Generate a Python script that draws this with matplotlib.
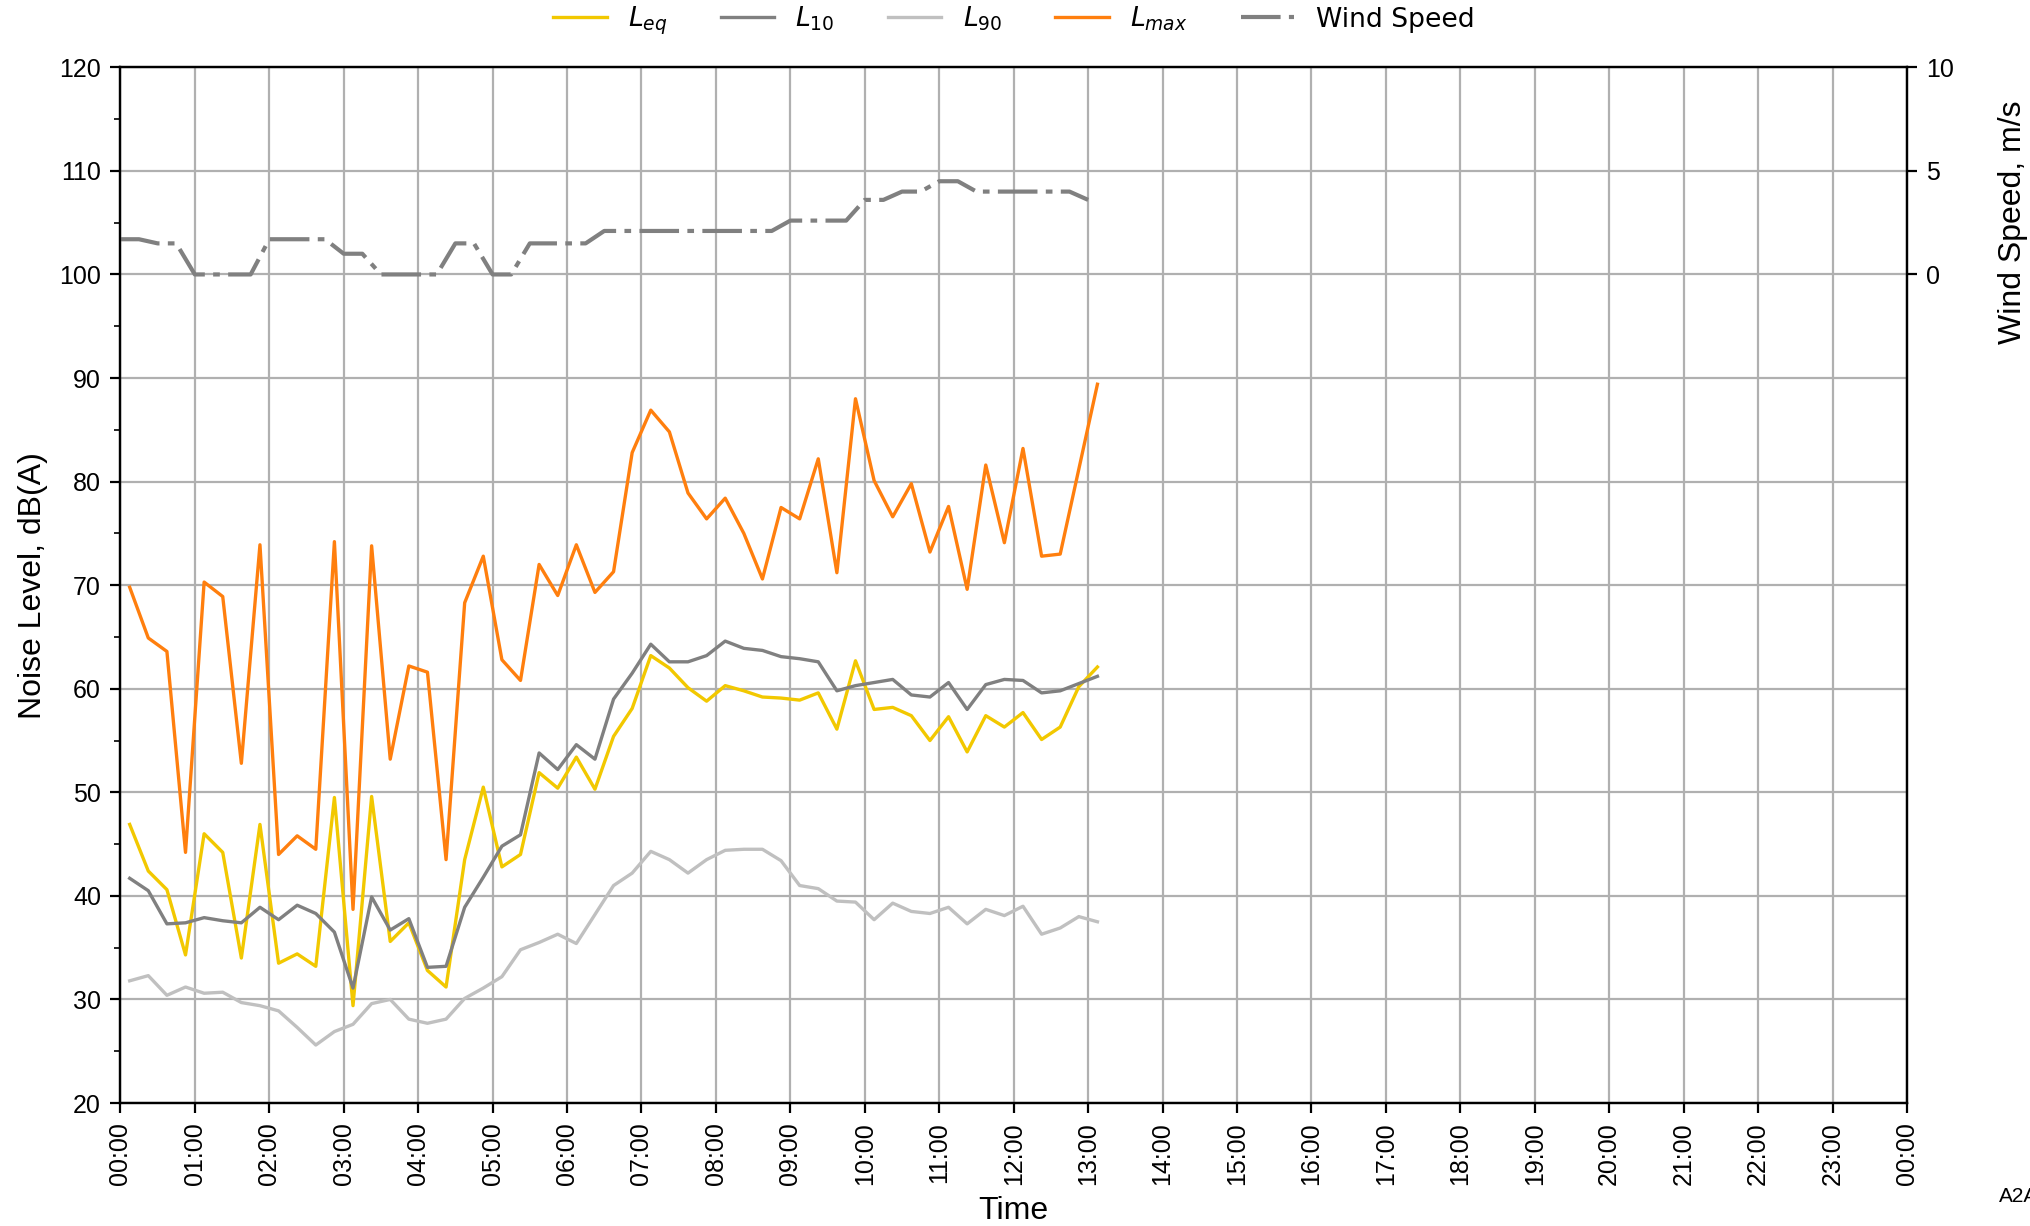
import matplotlib
matplotlib.use('Agg')
import matplotlib.pyplot as plt
import matplotlib.dates as mdates
import pandas as pd

plt.rcParams['font.family'] = ['Liberation Sans', 'DejaVu Sans']

# 15-minute noise readings (period centres) and wind readings
noise_start = '2024-01-01 00:07:30'
wind_start = '2024-01-01 00:00:00'

leq = [46.9, 42.4, 40.6, 34.3, 46.0, 44.2, 34.0, 46.9, 33.5, 34.4,
       33.2, 49.5, 29.4, 49.6, 35.6, 37.4, 32.8, 31.2, 43.5, 50.5,
       42.8, 44.0, 51.9, 50.4, 53.4, 50.3, 55.4, 58.1, 63.2, 62.0,
       60.1, 58.8, 60.3, 59.8, 59.2, 59.1, 58.9, 59.6, 56.1, 62.7,
       58.0, 58.2, 57.4, 55.0, 57.3, 53.9, 57.4, 56.3, 57.7, 55.1,
       56.3, 60.2, 62.1]
l10 = [41.7, 40.5, 37.3, 37.4, 37.9, 37.6, 37.4, 38.9, 37.7, 39.1,
       38.3, 36.5, 31.1, 39.9, 36.7, 37.8, 33.1, 33.2, 38.9, 41.8,
       44.8, 45.9, 53.8, 52.2, 54.6, 53.2, 59.0, 61.5, 64.3, 62.6,
       62.6, 63.2, 64.6, 63.9, 63.7, 63.1, 62.9, 62.6, 59.8, 60.3,
       60.6, 60.9, 59.4, 59.2, 60.6, 58.0, 60.4, 60.9, 60.8, 59.6,
       59.8, 60.5, 61.2]
l90 = [31.8, 32.3, 30.4, 31.2, 30.6, 30.7, 29.7, 29.4, 28.9, 27.3,
       25.6, 26.9, 27.6, 29.6, 30.0, 28.1, 27.7, 28.1, 30.1, 31.1,
       32.2, 34.8, 35.5, 36.3, 35.4, 38.2, 41.0, 42.2, 44.3, 43.5,
       42.2, 43.5, 44.4, 44.5, 44.5, 43.4, 41.0, 40.7, 39.5, 39.4,
       37.7, 39.3, 38.5, 38.3, 38.9, 37.3, 38.7, 38.1, 39.0, 36.3,
       36.9, 38.0, 37.5]
lmax = [69.8, 64.9, 63.6, 44.2, 70.3, 68.9, 52.8, 73.9, 44.0, 45.8,
        44.5, 74.2, 38.7, 73.8, 53.2, 62.2, 61.6, 43.5, 68.3, 72.8,
        62.8, 60.8, 72.0, 69.0, 73.9, 69.3, 71.3, 82.8, 86.9, 84.8,
        78.9, 76.4, 78.4, 75.0, 70.6, 77.5, 76.4, 82.2, 71.2, 88.0,
        80.1, 76.6, 79.8, 73.2, 77.6, 69.6, 81.6, 74.1, 83.2, 72.8,
        73.0, 81.2, 89.4]
wind = [1.7, 1.7, 1.5, 1.5, 0.0, 0.0, 0.0, 0.0, 1.7, 1.7,
        1.7, 1.7, 1.0, 1.0, 0.0, 0.0, 0.0, 0.0, 1.5, 1.5,
        0.0, 0.0, 1.5, 1.5, 1.5, 1.5, 2.1, 2.1, 2.1, 2.1,
        2.1, 2.1, 2.1, 2.1, 2.1, 2.1, 2.6, 2.6, 2.6, 2.6,
        3.6, 3.6, 4.0, 4.0, 4.5, 4.5, 4.0, 4.0, 4.0, 4.0,
        4.0, 4.0, 3.6]

noise_t = pd.date_range(noise_start, periods=len(leq), freq='15min')
wind_t = pd.date_range(wind_start, periods=len(wind), freq='15min')

fig = plt.figure(figsize=(10.15, 6.13), dpi=200)
ax = fig.add_axes([0.0593, 0.1003, 0.8801, 0.8448])
ax2 = ax.twinx()

h1, = ax.plot(noise_t, leq, color='#f2c800', lw=1.2, label='$L_{eq}$')
h2, = ax.plot(noise_t, l10, color='#808080', lw=1.2, label='$L_{10}$')
h3, = ax.plot(noise_t, l90, color='#c0c0c0', lw=1.2, label='$L_{90}$')
h4, = ax.plot(noise_t, lmax, color='#ff7f0e', lw=1.2, label='$L_{max}$')
h5, = ax2.plot(wind_t, wind, color='#808080', lw=1.5,
               linestyle=(0, (9.5, 2.0, 1.6, 2.0)), label='Wind Speed')

ax.set_xlim(pd.Timestamp('2024-01-01 00:00'), pd.Timestamp('2024-01-02 00:00'))
ax.xaxis.set_major_locator(mdates.HourLocator())
ax.xaxis.set_major_formatter(mdates.DateFormatter('%H:%M'))
ax.tick_params(axis='x', labelrotation=90, labelsize=9)
ax.set_ylim(20, 120)
ax.set_yticks(range(20, 121, 10))
ax.set_yticks(range(25, 120, 10), minor=True)
ax.tick_params(axis='y', labelsize=9)
ax.grid(True, which='major', color='#b0b0b0', lw=0.8)

ax2.set_ylim(-40, 10)
ax2.set_yticks([0, 5, 10])
ax2.tick_params(axis='y', labelsize=9)

ax.set_xlabel('Time', fontsize=11.5, labelpad=4)
ax.set_ylabel('Noise Level, dB(A)', fontsize=11.5)
ax2.set_ylabel('Wind Speed, m/s', fontsize=11.5)
ax2.yaxis.set_label_coords(1.0507, 0.85)

ax.legend(handles=[h1, h2, h3, h4, h5], loc='center', ncol=5, frameon=False,
          prop={'family': 'DejaVu Sans', 'size': 9.6},
          bbox_to_anchor=(0.5, 1.0447))

fig.text(0.9847, 0.0196, 'A2A', fontsize=7.5)

fig.savefig('out.png', dpi=200)
